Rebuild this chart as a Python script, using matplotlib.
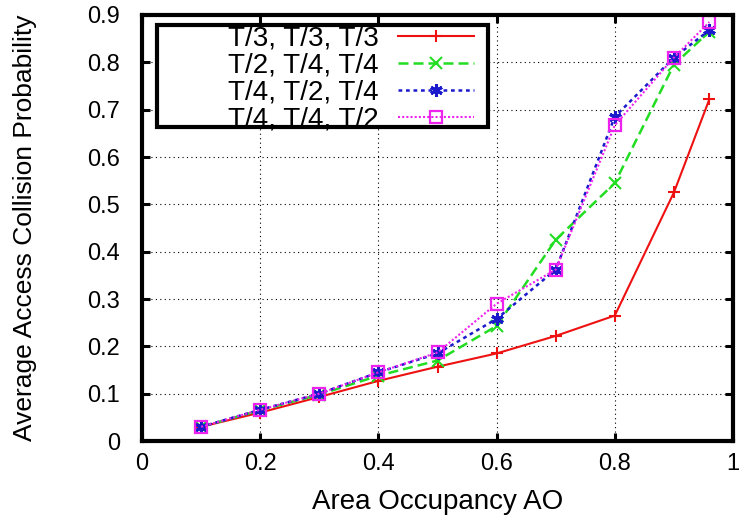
import matplotlib
matplotlib.use("Agg")
import matplotlib.pyplot as plt
from matplotlib.patches import Rectangle

plt.rcParams['font.family'] = ['Liberation Sans', 'DejaVu Sans']

ao = [0.1, 0.2, 0.3, 0.4, 0.5, 0.6, 0.7, 0.8, 0.9, 0.96]
labels = ['T/3, T/3, T/3', 'T/2, T/4, T/4', 'T/4, T/2, T/4', 'T/4, T/4, T/2']
t333 = [0.030, 0.060, 0.093, 0.127, 0.157, 0.185, 0.222, 0.265, 0.525, 0.722]
t244 = [0.030, 0.065, 0.098, 0.138, 0.170, 0.243, 0.425, 0.545, 0.795, 0.865]
t424 = [0.030, 0.066, 0.100, 0.145, 0.185, 0.258, 0.362, 0.685, 0.810, 0.868]
t442 = [0.030, 0.066, 0.100, 0.145, 0.187, 0.290, 0.362, 0.667, 0.810, 0.885]

fig = plt.figure(figsize=(7.4, 5.23), dpi=100)
ax = fig.add_axes([142 / 740, 82 / 523, 591 / 740, 426 / 523])

ax.plot(ao, t333, color='#ee1111', ls='-', lw=1.5, marker='+', ms=9, mew=1.5, label=labels[0])
ax.plot(ao, t244, color='#22dd22', ls=(0, (4, 2)), lw=1.8, marker='x', ms=8, mew=1.5, label=labels[1])
ax.plot(ao, t424, color='#1a1acc', ls=(0, (1.5, 1.5)), lw=1.8, marker=(6, 2, 0), ms=9, mew=2.2, label=labels[2])
ax.plot(ao, t442, color='#ee22ee', ls=(0, (1, 1)), lw=1.5, marker='s', ms=8, mfc='none', mew=1.6, label=labels[3])

ax.set_xlim(0, 1)
ax.set_ylim(0, 0.9)
ax.set_xticks([0, 0.2, 0.4, 0.6, 0.8, 1])
ax.set_xticklabels(['0', '0.2', '0.4', '0.6', '0.8', '1'])
ax.set_yticks([i / 10 for i in range(10)])
ax.set_yticklabels(['0'] + [f'{i / 10:.1f}' for i in range(1, 10)])
ax.grid(True, color='black', ls=(0, (1, 3)), lw=0.8)
ax.tick_params(direction='in', length=6, width=2.2, top=True, right=True, labelsize=17)
ax.tick_params(axis='x', pad=9)
ax.tick_params(axis='y', pad=16)
for s in ax.spines.values():
    s.set_linewidth(3)

ax.set_xlabel('Area Occupancy AO', fontsize=20, labelpad=10)
ax.set_ylabel('Average Access Collision Probability', fontsize=19, labelpad=36)

# legend box (gnuplot style: wide frame, right-aligned keys)
box = Rectangle((0.025, 0.737), 0.56, 0.24, transform=ax.transAxes, facecolor='white',
                edgecolor='black', lw=3, zorder=5)
ax.add_patch(box)
leg = ax.legend(loc='upper right', bbox_to_anchor=(0.562, 0.976), markerfirst=False,
                fontsize=20, handlelength=2.75, labelspacing=0.04, borderpad=0,
                borderaxespad=0, handletextpad=0.7, frameon=False)
leg.set_zorder(6)

fig.savefig('out.png', dpi=100)
